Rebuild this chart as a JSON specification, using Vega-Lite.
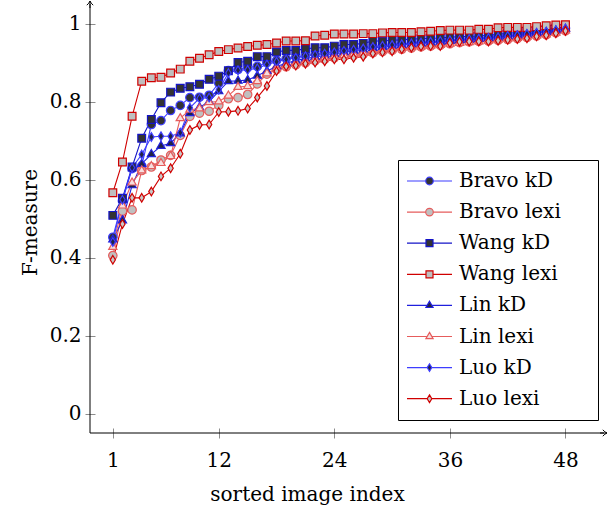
{
"$schema": "https://vega.github.io/schema/vega-lite/v6.json",
"autosize": {"type": "none"},
"padding": {"left": 90, "top": 4, "right": 5, "bottom": 77},
"width": 514,
"height": 429,
"background": "white",
"config": {
 "view": {"stroke": null},
 "axis": {"labelFont": "DejaVu Serif", "titleFont": "DejaVu Serif", "labelFontSize": 20, "titleFontSize": 20, "titleFontWeight": "normal", "labelColor": "black", "titleColor": "black", "tickColor": "#8c8c8c", "tickWidth": 1, "grid": false, "domain": false}
},
"datasets": {"d": [
{"s":"Bravo kD","x":1,"y":0.452},{"s":"Bravo kD","x":2,"y":0.545},{"s":"Bravo kD","x":3,"y":0.628},{"s":"Bravo kD","x":4,"y":0.635},{"s":"Bravo kD","x":5,"y":0.741},{"s":"Bravo kD","x":6,"y":0.751},{"s":"Bravo kD","x":7,"y":0.777},{"s":"Bravo kD","x":8,"y":0.790},{"s":"Bravo kD","x":9,"y":0.810},{"s":"Bravo kD","x":10,"y":0.811},
{"s":"Bravo kD","x":11,"y":0.816},{"s":"Bravo kD","x":12,"y":0.847},{"s":"Bravo kD","x":13,"y":0.879},{"s":"Bravo kD","x":14,"y":0.882},{"s":"Bravo kD","x":15,"y":0.887},{"s":"Bravo kD","x":16,"y":0.890},{"s":"Bravo kD","x":17,"y":0.900},{"s":"Bravo kD","x":18,"y":0.905},{"s":"Bravo kD","x":19,"y":0.910},{"s":"Bravo kD","x":20,"y":0.914},
{"s":"Bravo kD","x":21,"y":0.918},{"s":"Bravo kD","x":22,"y":0.921},{"s":"Bravo kD","x":23,"y":0.924},{"s":"Bravo kD","x":24,"y":0.927},{"s":"Bravo kD","x":25,"y":0.931},{"s":"Bravo kD","x":26,"y":0.934},{"s":"Bravo kD","x":27,"y":0.937},{"s":"Bravo kD","x":28,"y":0.940},{"s":"Bravo kD","x":29,"y":0.942},{"s":"Bravo kD","x":30,"y":0.944},
{"s":"Bravo kD","x":31,"y":0.946},{"s":"Bravo kD","x":32,"y":0.948},{"s":"Bravo kD","x":33,"y":0.950},{"s":"Bravo kD","x":34,"y":0.952},{"s":"Bravo kD","x":35,"y":0.954},{"s":"Bravo kD","x":36,"y":0.956},{"s":"Bravo kD","x":37,"y":0.958},{"s":"Bravo kD","x":38,"y":0.960},{"s":"Bravo kD","x":39,"y":0.962},{"s":"Bravo kD","x":40,"y":0.964},
{"s":"Bravo kD","x":41,"y":0.966},{"s":"Bravo kD","x":42,"y":0.969},{"s":"Bravo kD","x":43,"y":0.971},{"s":"Bravo kD","x":44,"y":0.974},{"s":"Bravo kD","x":45,"y":0.977},{"s":"Bravo kD","x":46,"y":0.980},{"s":"Bravo kD","x":47,"y":0.984},{"s":"Bravo kD","x":48,"y":0.988},
{"s":"Bravo lexi","x":1,"y":0.405},{"s":"Bravo lexi","x":2,"y":0.519},{"s":"Bravo lexi","x":3,"y":0.522},{"s":"Bravo lexi","x":4,"y":0.623},{"s":"Bravo lexi","x":5,"y":0.632},{"s":"Bravo lexi","x":6,"y":0.650},{"s":"Bravo lexi","x":7,"y":0.662},{"s":"Bravo lexi","x":8,"y":0.713},{"s":"Bravo lexi","x":9,"y":0.762},{"s":"Bravo lexi","x":10,"y":0.770},
{"s":"Bravo lexi","x":11,"y":0.775},{"s":"Bravo lexi","x":12,"y":0.790},{"s":"Bravo lexi","x":13,"y":0.807},{"s":"Bravo lexi","x":14,"y":0.810},{"s":"Bravo lexi","x":15,"y":0.818},{"s":"Bravo lexi","x":16,"y":0.845},{"s":"Bravo lexi","x":17,"y":0.870},{"s":"Bravo lexi","x":18,"y":0.882},{"s":"Bravo lexi","x":19,"y":0.889},{"s":"Bravo lexi","x":20,"y":0.894},
{"s":"Bravo lexi","x":21,"y":0.899},{"s":"Bravo lexi","x":22,"y":0.904},{"s":"Bravo lexi","x":23,"y":0.908},{"s":"Bravo lexi","x":24,"y":0.912},{"s":"Bravo lexi","x":25,"y":0.915},{"s":"Bravo lexi","x":26,"y":0.918},{"s":"Bravo lexi","x":27,"y":0.921},{"s":"Bravo lexi","x":28,"y":0.925},{"s":"Bravo lexi","x":29,"y":0.928},{"s":"Bravo lexi","x":30,"y":0.931},
{"s":"Bravo lexi","x":31,"y":0.934},{"s":"Bravo lexi","x":32,"y":0.937},{"s":"Bravo lexi","x":33,"y":0.940},{"s":"Bravo lexi","x":34,"y":0.942},{"s":"Bravo lexi","x":35,"y":0.944},{"s":"Bravo lexi","x":36,"y":0.948},{"s":"Bravo lexi","x":37,"y":0.951},{"s":"Bravo lexi","x":38,"y":0.953},{"s":"Bravo lexi","x":39,"y":0.954},{"s":"Bravo lexi","x":40,"y":0.955},
{"s":"Bravo lexi","x":41,"y":0.957},{"s":"Bravo lexi","x":42,"y":0.959},{"s":"Bravo lexi","x":43,"y":0.961},{"s":"Bravo lexi","x":44,"y":0.964},{"s":"Bravo lexi","x":45,"y":0.968},{"s":"Bravo lexi","x":46,"y":0.971},{"s":"Bravo lexi","x":47,"y":0.976},{"s":"Bravo lexi","x":48,"y":0.981},
{"s":"Wang kD","x":1,"y":0.508},{"s":"Wang kD","x":2,"y":0.552},{"s":"Wang kD","x":3,"y":0.632},{"s":"Wang kD","x":4,"y":0.706},{"s":"Wang kD","x":5,"y":0.754},{"s":"Wang kD","x":6,"y":0.797},{"s":"Wang kD","x":7,"y":0.824},{"s":"Wang kD","x":8,"y":0.834},{"s":"Wang kD","x":9,"y":0.838},{"s":"Wang kD","x":10,"y":0.844},
{"s":"Wang kD","x":11,"y":0.857},{"s":"Wang kD","x":12,"y":0.865},{"s":"Wang kD","x":13,"y":0.879},{"s":"Wang kD","x":14,"y":0.900},{"s":"Wang kD","x":15,"y":0.903},{"s":"Wang kD","x":16,"y":0.915},{"s":"Wang kD","x":17,"y":0.915},{"s":"Wang kD","x":18,"y":0.927},{"s":"Wang kD","x":19,"y":0.931},{"s":"Wang kD","x":20,"y":0.931},
{"s":"Wang kD","x":21,"y":0.935},{"s":"Wang kD","x":22,"y":0.938},{"s":"Wang kD","x":23,"y":0.938},{"s":"Wang kD","x":24,"y":0.942},{"s":"Wang kD","x":25,"y":0.946},{"s":"Wang kD","x":26,"y":0.946},{"s":"Wang kD","x":27,"y":0.949},{"s":"Wang kD","x":28,"y":0.955},{"s":"Wang kD","x":29,"y":0.955},{"s":"Wang kD","x":30,"y":0.957},
{"s":"Wang kD","x":31,"y":0.958},{"s":"Wang kD","x":32,"y":0.960},{"s":"Wang kD","x":33,"y":0.961},{"s":"Wang kD","x":34,"y":0.962},{"s":"Wang kD","x":35,"y":0.963},{"s":"Wang kD","x":36,"y":0.965},{"s":"Wang kD","x":37,"y":0.966},{"s":"Wang kD","x":38,"y":0.967},{"s":"Wang kD","x":39,"y":0.968},{"s":"Wang kD","x":40,"y":0.970},
{"s":"Wang kD","x":41,"y":0.972},{"s":"Wang kD","x":42,"y":0.975},{"s":"Wang kD","x":43,"y":0.977},{"s":"Wang kD","x":44,"y":0.979},{"s":"Wang kD","x":45,"y":0.982},{"s":"Wang kD","x":46,"y":0.985},{"s":"Wang kD","x":47,"y":0.988},{"s":"Wang kD","x":48,"y":0.992},
{"s":"Wang lexi","x":1,"y":0.566},{"s":"Wang lexi","x":2,"y":0.645},{"s":"Wang lexi","x":3,"y":0.762},{"s":"Wang lexi","x":4,"y":0.852},{"s":"Wang lexi","x":5,"y":0.861},{"s":"Wang lexi","x":6,"y":0.862},{"s":"Wang lexi","x":7,"y":0.873},{"s":"Wang lexi","x":8,"y":0.883},{"s":"Wang lexi","x":9,"y":0.903},{"s":"Wang lexi","x":10,"y":0.911},
{"s":"Wang lexi","x":11,"y":0.920},{"s":"Wang lexi","x":12,"y":0.928},{"s":"Wang lexi","x":13,"y":0.933},{"s":"Wang lexi","x":14,"y":0.937},{"s":"Wang lexi","x":15,"y":0.941},{"s":"Wang lexi","x":16,"y":0.944},{"s":"Wang lexi","x":17,"y":0.946},{"s":"Wang lexi","x":18,"y":0.950},{"s":"Wang lexi","x":19,"y":0.955},{"s":"Wang lexi","x":20,"y":0.955},
{"s":"Wang lexi","x":21,"y":0.956},{"s":"Wang lexi","x":22,"y":0.968},{"s":"Wang lexi","x":23,"y":0.970},{"s":"Wang lexi","x":24,"y":0.973},{"s":"Wang lexi","x":25,"y":0.973},{"s":"Wang lexi","x":26,"y":0.973},{"s":"Wang lexi","x":27,"y":0.974},{"s":"Wang lexi","x":28,"y":0.974},{"s":"Wang lexi","x":29,"y":0.976},{"s":"Wang lexi","x":30,"y":0.977},
{"s":"Wang lexi","x":31,"y":0.977},{"s":"Wang lexi","x":32,"y":0.977},{"s":"Wang lexi","x":33,"y":0.979},{"s":"Wang lexi","x":34,"y":0.980},{"s":"Wang lexi","x":35,"y":0.982},{"s":"Wang lexi","x":36,"y":0.983},{"s":"Wang lexi","x":37,"y":0.983},{"s":"Wang lexi","x":38,"y":0.983},{"s":"Wang lexi","x":39,"y":0.985},{"s":"Wang lexi","x":40,"y":0.985},
{"s":"Wang lexi","x":41,"y":0.989},{"s":"Wang lexi","x":42,"y":0.990},{"s":"Wang lexi","x":43,"y":0.990},{"s":"Wang lexi","x":44,"y":0.990},{"s":"Wang lexi","x":45,"y":0.992},{"s":"Wang lexi","x":46,"y":0.994},{"s":"Wang lexi","x":47,"y":0.996},{"s":"Wang lexi","x":48,"y":0.997},
{"s":"Lin kD","x":1,"y":0.446},{"s":"Lin kD","x":2,"y":0.495},{"s":"Lin kD","x":3,"y":0.585},{"s":"Lin kD","x":4,"y":0.640},{"s":"Lin kD","x":5,"y":0.665},{"s":"Lin kD","x":6,"y":0.686},{"s":"Lin kD","x":7,"y":0.693},{"s":"Lin kD","x":8,"y":0.718},{"s":"Lin kD","x":9,"y":0.770},{"s":"Lin kD","x":10,"y":0.785},
{"s":"Lin kD","x":11,"y":0.800},{"s":"Lin kD","x":12,"y":0.826},{"s":"Lin kD","x":13,"y":0.852},{"s":"Lin kD","x":14,"y":0.853},{"s":"Lin kD","x":15,"y":0.855},{"s":"Lin kD","x":16,"y":0.866},{"s":"Lin kD","x":17,"y":0.878},{"s":"Lin kD","x":18,"y":0.890},{"s":"Lin kD","x":19,"y":0.898},{"s":"Lin kD","x":20,"y":0.905},
{"s":"Lin kD","x":21,"y":0.910},{"s":"Lin kD","x":22,"y":0.914},{"s":"Lin kD","x":23,"y":0.918},{"s":"Lin kD","x":24,"y":0.922},{"s":"Lin kD","x":25,"y":0.926},{"s":"Lin kD","x":26,"y":0.930},{"s":"Lin kD","x":27,"y":0.933},{"s":"Lin kD","x":28,"y":0.937},{"s":"Lin kD","x":29,"y":0.940},{"s":"Lin kD","x":30,"y":0.943},
{"s":"Lin kD","x":31,"y":0.945},{"s":"Lin kD","x":32,"y":0.947},{"s":"Lin kD","x":33,"y":0.949},{"s":"Lin kD","x":34,"y":0.951},{"s":"Lin kD","x":35,"y":0.953},{"s":"Lin kD","x":36,"y":0.955},{"s":"Lin kD","x":37,"y":0.957},{"s":"Lin kD","x":38,"y":0.958},{"s":"Lin kD","x":39,"y":0.960},{"s":"Lin kD","x":40,"y":0.962},
{"s":"Lin kD","x":41,"y":0.964},{"s":"Lin kD","x":42,"y":0.967},{"s":"Lin kD","x":43,"y":0.969},{"s":"Lin kD","x":44,"y":0.972},{"s":"Lin kD","x":45,"y":0.975},{"s":"Lin kD","x":46,"y":0.978},{"s":"Lin kD","x":47,"y":0.982},{"s":"Lin kD","x":48,"y":0.986},
{"s":"Lin lexi","x":1,"y":0.427},{"s":"Lin lexi","x":2,"y":0.533},{"s":"Lin lexi","x":3,"y":0.592},{"s":"Lin lexi","x":4,"y":0.623},{"s":"Lin lexi","x":5,"y":0.634},{"s":"Lin lexi","x":6,"y":0.642},{"s":"Lin lexi","x":7,"y":0.660},{"s":"Lin lexi","x":8,"y":0.757},{"s":"Lin lexi","x":9,"y":0.779},{"s":"Lin lexi","x":10,"y":0.782},
{"s":"Lin lexi","x":11,"y":0.798},{"s":"Lin lexi","x":12,"y":0.800},{"s":"Lin lexi","x":13,"y":0.815},{"s":"Lin lexi","x":14,"y":0.837},{"s":"Lin lexi","x":15,"y":0.839},{"s":"Lin lexi","x":16,"y":0.852},{"s":"Lin lexi","x":17,"y":0.872},{"s":"Lin lexi","x":18,"y":0.885},{"s":"Lin lexi","x":19,"y":0.893},{"s":"Lin lexi","x":20,"y":0.898},
{"s":"Lin lexi","x":21,"y":0.903},{"s":"Lin lexi","x":22,"y":0.908},{"s":"Lin lexi","x":23,"y":0.912},{"s":"Lin lexi","x":24,"y":0.916},{"s":"Lin lexi","x":25,"y":0.919},{"s":"Lin lexi","x":26,"y":0.922},{"s":"Lin lexi","x":27,"y":0.925},{"s":"Lin lexi","x":28,"y":0.928},{"s":"Lin lexi","x":29,"y":0.931},{"s":"Lin lexi","x":30,"y":0.934},
{"s":"Lin lexi","x":31,"y":0.937},{"s":"Lin lexi","x":32,"y":0.939},{"s":"Lin lexi","x":33,"y":0.941},{"s":"Lin lexi","x":34,"y":0.943},{"s":"Lin lexi","x":35,"y":0.945},{"s":"Lin lexi","x":36,"y":0.948},{"s":"Lin lexi","x":37,"y":0.950},{"s":"Lin lexi","x":38,"y":0.952},{"s":"Lin lexi","x":39,"y":0.954},{"s":"Lin lexi","x":40,"y":0.956},
{"s":"Lin lexi","x":41,"y":0.958},{"s":"Lin lexi","x":42,"y":0.961},{"s":"Lin lexi","x":43,"y":0.963},{"s":"Lin lexi","x":44,"y":0.966},{"s":"Lin lexi","x":45,"y":0.969},{"s":"Lin lexi","x":46,"y":0.972},{"s":"Lin lexi","x":47,"y":0.976},{"s":"Lin lexi","x":48,"y":0.982},
{"s":"Luo kD","x":1,"y":0.440},{"s":"Luo kD","x":2,"y":0.548},{"s":"Luo kD","x":3,"y":0.630},{"s":"Luo kD","x":4,"y":0.664},{"s":"Luo kD","x":5,"y":0.709},{"s":"Luo kD","x":6,"y":0.711},{"s":"Luo kD","x":7,"y":0.711},{"s":"Luo kD","x":8,"y":0.720},{"s":"Luo kD","x":9,"y":0.784},{"s":"Luo kD","x":10,"y":0.808},
{"s":"Luo kD","x":11,"y":0.810},{"s":"Luo kD","x":12,"y":0.830},{"s":"Luo kD","x":13,"y":0.873},{"s":"Luo kD","x":14,"y":0.880},{"s":"Luo kD","x":15,"y":0.881},{"s":"Luo kD","x":16,"y":0.885},{"s":"Luo kD","x":17,"y":0.895},{"s":"Luo kD","x":18,"y":0.902},{"s":"Luo kD","x":19,"y":0.908},{"s":"Luo kD","x":20,"y":0.912},
{"s":"Luo kD","x":21,"y":0.916},{"s":"Luo kD","x":22,"y":0.920},{"s":"Luo kD","x":23,"y":0.923},{"s":"Luo kD","x":24,"y":0.926},{"s":"Luo kD","x":25,"y":0.930},{"s":"Luo kD","x":26,"y":0.933},{"s":"Luo kD","x":27,"y":0.936},{"s":"Luo kD","x":28,"y":0.940},{"s":"Luo kD","x":29,"y":0.943},{"s":"Luo kD","x":30,"y":0.945},
{"s":"Luo kD","x":31,"y":0.947},{"s":"Luo kD","x":32,"y":0.949},{"s":"Luo kD","x":33,"y":0.951},{"s":"Luo kD","x":34,"y":0.953},{"s":"Luo kD","x":35,"y":0.955},{"s":"Luo kD","x":36,"y":0.957},{"s":"Luo kD","x":37,"y":0.958},{"s":"Luo kD","x":38,"y":0.960},{"s":"Luo kD","x":39,"y":0.961},{"s":"Luo kD","x":40,"y":0.963},
{"s":"Luo kD","x":41,"y":0.965},{"s":"Luo kD","x":42,"y":0.968},{"s":"Luo kD","x":43,"y":0.970},{"s":"Luo kD","x":44,"y":0.973},{"s":"Luo kD","x":45,"y":0.976},{"s":"Luo kD","x":46,"y":0.979},{"s":"Luo kD","x":47,"y":0.983},{"s":"Luo kD","x":48,"y":0.987},
{"s":"Luo lexi","x":1,"y":0.394},{"s":"Luo lexi","x":2,"y":0.486},{"s":"Luo lexi","x":3,"y":0.553},{"s":"Luo lexi","x":4,"y":0.553},{"s":"Luo lexi","x":5,"y":0.569},{"s":"Luo lexi","x":6,"y":0.608},{"s":"Luo lexi","x":7,"y":0.629},{"s":"Luo lexi","x":8,"y":0.666},{"s":"Luo lexi","x":9,"y":0.727},{"s":"Luo lexi","x":10,"y":0.740},
{"s":"Luo lexi","x":11,"y":0.741},{"s":"Luo lexi","x":12,"y":0.773},{"s":"Luo lexi","x":13,"y":0.774},{"s":"Luo lexi","x":14,"y":0.776},{"s":"Luo lexi","x":15,"y":0.782},{"s":"Luo lexi","x":16,"y":0.810},{"s":"Luo lexi","x":17,"y":0.840},{"s":"Luo lexi","x":18,"y":0.878},{"s":"Luo lexi","x":19,"y":0.890},{"s":"Luo lexi","x":20,"y":0.892},
{"s":"Luo lexi","x":21,"y":0.897},{"s":"Luo lexi","x":22,"y":0.900},{"s":"Luo lexi","x":23,"y":0.903},{"s":"Luo lexi","x":24,"y":0.908},{"s":"Luo lexi","x":25,"y":0.908},{"s":"Luo lexi","x":26,"y":0.912},{"s":"Luo lexi","x":27,"y":0.915},{"s":"Luo lexi","x":28,"y":0.923},{"s":"Luo lexi","x":29,"y":0.926},{"s":"Luo lexi","x":30,"y":0.929},
{"s":"Luo lexi","x":31,"y":0.934},{"s":"Luo lexi","x":32,"y":0.938},{"s":"Luo lexi","x":33,"y":0.941},{"s":"Luo lexi","x":34,"y":0.942},{"s":"Luo lexi","x":35,"y":0.942},{"s":"Luo lexi","x":36,"y":0.950},{"s":"Luo lexi","x":37,"y":0.953},{"s":"Luo lexi","x":38,"y":0.954},{"s":"Luo lexi","x":39,"y":0.954},{"s":"Luo lexi","x":40,"y":0.954},
{"s":"Luo lexi","x":41,"y":0.956},{"s":"Luo lexi","x":42,"y":0.958},{"s":"Luo lexi","x":43,"y":0.960},{"s":"Luo lexi","x":44,"y":0.962},{"s":"Luo lexi","x":45,"y":0.967},{"s":"Luo lexi","x":46,"y":0.970},{"s":"Luo lexi","x":47,"y":0.975},{"s":"Luo lexi","x":48,"y":0.981}
]},
"layer": [
 {
  "data": {"values": [{}]},
  "mark": {"type": "rule", "color": "black", "strokeWidth": 1},
  "encoding": {"y": {"datum": -0.05, "type": "quantitative", "scale": {"domain": [-0.05, 1.05], "nice": false, "zero": false},
         "axis": {"values": [0, 0.2, 0.4, 0.6, 0.8, 1], "format": ".1~f", "title": "F-measure", "offset": -5, "tickSize": 10, "labelPadding": 4, "titleX": -65, "titleY": 218, "titleBaseline": "middle", "titleAngle": -90, "labelFlush": false}}}
 },
 {
  "data": {"values": [{}]},
  "mark": {"type": "rule", "color": "black", "strokeWidth": 1},
  "encoding": {"x": {"datum": -1.37, "type": "quantitative", "scale": {"domain": [-1.37, 52], "nice": false, "zero": false},
         "axis": {"values": [1, 12, 24, 36, 48], "title": "sorted image index", "offset": -5, "tickSize": 10, "labelPadding": 12, "titleX": 217, "titleY": 66, "titleBaseline": "middle", "labelFlush": false}}}
 },
 {
  "data": {"name": "d"},
  "mark": {"type": "line", "strokeWidth": 1.1},
  "encoding": {
   "x": {"field": "x", "type": "quantitative", "scale": {"domain": [-1.37, 52], "nice": false, "zero": false},
         "axis": {"values": [1, 12, 24, 36, 48], "title": "sorted image index", "offset": -5, "tickSize": 10, "labelPadding": 12, "titleX": 217, "titleY": 66, "titleBaseline": "middle", "labelFlush": false}},
   "y": {"field": "y", "type": "quantitative", "scale": {"domain": [-0.05, 1.05], "nice": false, "zero": false},
         "axis": {"values": [0, 0.2, 0.4, 0.6, 0.8, 1], "format": ".1~f", "title": "F-measure", "offset": -5, "tickSize": 10, "labelPadding": 4, "titleX": -65, "titleY": 218, "titleBaseline": "middle", "titleAngle": -90, "labelFlush": false}},
   "color": {"field": "s", "type": "nominal",
      "scale": {"domain": ["Luo lexi","Luo kD","Lin lexi","Lin kD","Wang lexi","Wang kD","Bravo lexi","Bravo kD"], "range": ["#d00000","#3d3dff","#e65c5c","#2020dd","#d00000","#1414c8","#e65c5c","#3d3dff"]},
      "legend": null}
  }
 },
 {
  "data": {"name": "d"},
  "mark": {"type": "point", "filled": true, "size": 130, "strokeWidth": 1.2, "opacity": 1},
  "encoding": {
   "x": {"field": "x", "type": "quantitative", "scale": {"domain": [-1.37, 52], "nice": false, "zero": false},
         "axis": {"values": [1, 12, 24, 36, 48], "title": "sorted image index", "offset": -5, "tickSize": 10, "labelPadding": 12, "titleX": 217, "titleY": 66, "titleBaseline": "middle", "labelFlush": false}},
   "y": {"field": "y", "type": "quantitative", "scale": {"domain": [-0.05, 1.05], "nice": false, "zero": false},
         "axis": {"values": [0, 0.2, 0.4, 0.6, 0.8, 1], "format": ".1~f", "title": "F-measure", "offset": -5, "tickSize": 10, "labelPadding": 4, "titleX": -65, "titleY": 218, "titleBaseline": "middle", "titleAngle": -90, "labelFlush": false}},
   "stroke": {"field": "s", "type": "nominal",
      "scale": {"domain": ["Bravo kD","Bravo lexi","Wang kD","Wang lexi","Lin kD","Lin lexi","Luo kD","Luo lexi"], "range": ["#3d3dff","#e65c5c","#1414c8","#d00000","#2020dd","#e65c5c","#3d3dff","#d00000"]},
      "legend": {"orient": "none", "legendX": 308, "legendY": 156, "title": null, "padding": 11, "strokeColor": "black", "fillColor": "white", "symbolSize": 100, "symbolStrokeWidth": 1.2, "symbolOffset": 10.5, "labelOffset": 19.5, "rowPadding": 11.1, "labelFont": "DejaVu Serif", "labelFontSize": 20, "labelColor": "black", "labelExpr": "datum.label + '\u00a0\u00a0\u00a0\u00a0\u200b'",
        "symbolType": {"expr": "indexof(datum.value,'Bravo')===0?'M-4.5,0H-0.76M0.76,0H4.5M0.76,0A0.76,0.76,0,1,1,-0.76,0A0.76,0.76,0,1,1,0.76,0Z':indexof(datum.value,'Wang')===0?'M-4.5,0H-0.7M0.7,0H4.5M-0.7,-0.7H0.7V0.7H-0.7Z':indexof(datum.value,'Lin')===0?'M-4.5,0H-0.48M0.48,0H4.5M0,-0.82L0.72,0.42L-0.72,0.42Z':'M-4.5,0H-0.46M0.46,0H4.5M0,-0.76L0.46,0L0,0.76L-0.46,0Z'"}}},
   "fill": {"field": "s", "type": "nominal",
      "scale": {"domain": ["Bravo kD","Bravo lexi","Wang kD","Wang lexi","Lin kD","Lin lexi","Luo kD","Luo lexi"], "range": ["#333333","#c0c0c0","#333333","#bfbfbf","#222244","#f6dede","#222244","#c8c8c8"]},
      "legend": {"orient": "none", "legendX": 308, "legendY": 156, "title": null, "padding": 11, "strokeColor": "black", "fillColor": "white", "symbolSize": 100, "symbolStrokeWidth": 1.2, "symbolOffset": 10.5, "labelOffset": 19.5, "rowPadding": 11.1, "labelFont": "DejaVu Serif", "labelFontSize": 20, "labelColor": "black", "labelExpr": "datum.label + '\u00a0\u00a0\u00a0\u00a0\u200b'",
        "symbolType": {"expr": "indexof(datum.value,'Bravo')===0?'M-4.5,0H-0.76M0.76,0H4.5M0.76,0A0.76,0.76,0,1,1,-0.76,0A0.76,0.76,0,1,1,0.76,0Z':indexof(datum.value,'Wang')===0?'M-4.5,0H-0.7M0.7,0H4.5M-0.7,-0.7H0.7V0.7H-0.7Z':indexof(datum.value,'Lin')===0?'M-4.5,0H-0.48M0.48,0H4.5M0,-0.82L0.72,0.42L-0.72,0.42Z':'M-4.5,0H-0.46M0.46,0H4.5M0,-0.76L0.46,0L0,0.76L-0.46,0Z'"}}},
   "shape": {"field": "s", "type": "nominal",
      "scale": {"domain": ["Luo lexi","Luo kD","Lin lexi","Lin kD","Wang lexi","Wang kD","Bravo lexi","Bravo kD"], "range": ["M0,-0.76L0.46,0L0,0.76L-0.46,0Z","M0,-0.76L0.46,0L0,0.76L-0.46,0Z","M0,-0.82L0.72,0.42L-0.72,0.42Z","M0,-0.82L0.72,0.42L-0.72,0.42Z","M-0.68,-0.68H0.68V0.68H-0.68Z","M-0.68,-0.68H0.68V0.68H-0.68Z","M0.74,0A0.74,0.74,0,1,1,-0.74,0A0.74,0.74,0,1,1,0.74,0Z","M0.74,0A0.74,0.74,0,1,1,-0.74,0A0.74,0.74,0,1,1,0.74,0Z"]},
      "legend": null}
  }
 },
 {
  "data": {"values": [{}]},
  "mark": {"type": "point", "shape": "M-1,0H0.75M-0.3,-0.8Q0.2,-0.2,0.75,0Q0.2,0.2,-0.3,0.8", "size": 64, "filled": false, "color": "black", "strokeWidth": 1, "opacity": 1},
  "encoding": {
   "x": {"datum": 52, "type": "quantitative", "scale": {"domain": [-1.37, 52], "nice": false, "zero": false},
         "axis": {"values": [1, 12, 24, 36, 48], "title": "sorted image index", "offset": -5, "tickSize": 10, "labelPadding": 12, "titleX": 217, "titleY": 66, "titleBaseline": "middle", "labelFlush": false}},
   "y": {"datum": -0.05, "type": "quantitative", "scale": {"domain": [-0.05, 1.05], "nice": false, "zero": false},
         "axis": {"values": [0, 0.2, 0.4, 0.6, 0.8, 1], "format": ".1~f", "title": "F-measure", "offset": -5, "tickSize": 10, "labelPadding": 4, "titleX": -65, "titleY": 218, "titleBaseline": "middle", "titleAngle": -90, "labelFlush": false}}}
 },
 {
  "data": {"values": [{}]},
  "mark": {"type": "point", "shape": "M0,1V-0.75M-0.8,0.3Q-0.2,-0.2,0,-0.75Q0.2,-0.2,0.8,0.3", "size": 64, "filled": false, "color": "black", "strokeWidth": 1, "opacity": 1},
  "encoding": {
   "x": {"datum": -1.37, "type": "quantitative", "scale": {"domain": [-1.37, 52], "nice": false, "zero": false},
         "axis": {"values": [1, 12, 24, 36, 48], "title": "sorted image index", "offset": -5, "tickSize": 10, "labelPadding": 12, "titleX": 217, "titleY": 66, "titleBaseline": "middle", "labelFlush": false}},
   "y": {"datum": 1.05, "type": "quantitative", "scale": {"domain": [-0.05, 1.05], "nice": false, "zero": false},
         "axis": {"values": [0, 0.2, 0.4, 0.6, 0.8, 1], "format": ".1~f", "title": "F-measure", "offset": -5, "tickSize": 10, "labelPadding": 4, "titleX": -65, "titleY": 218, "titleBaseline": "middle", "titleAngle": -90, "labelFlush": false}}}
 }
]
}
